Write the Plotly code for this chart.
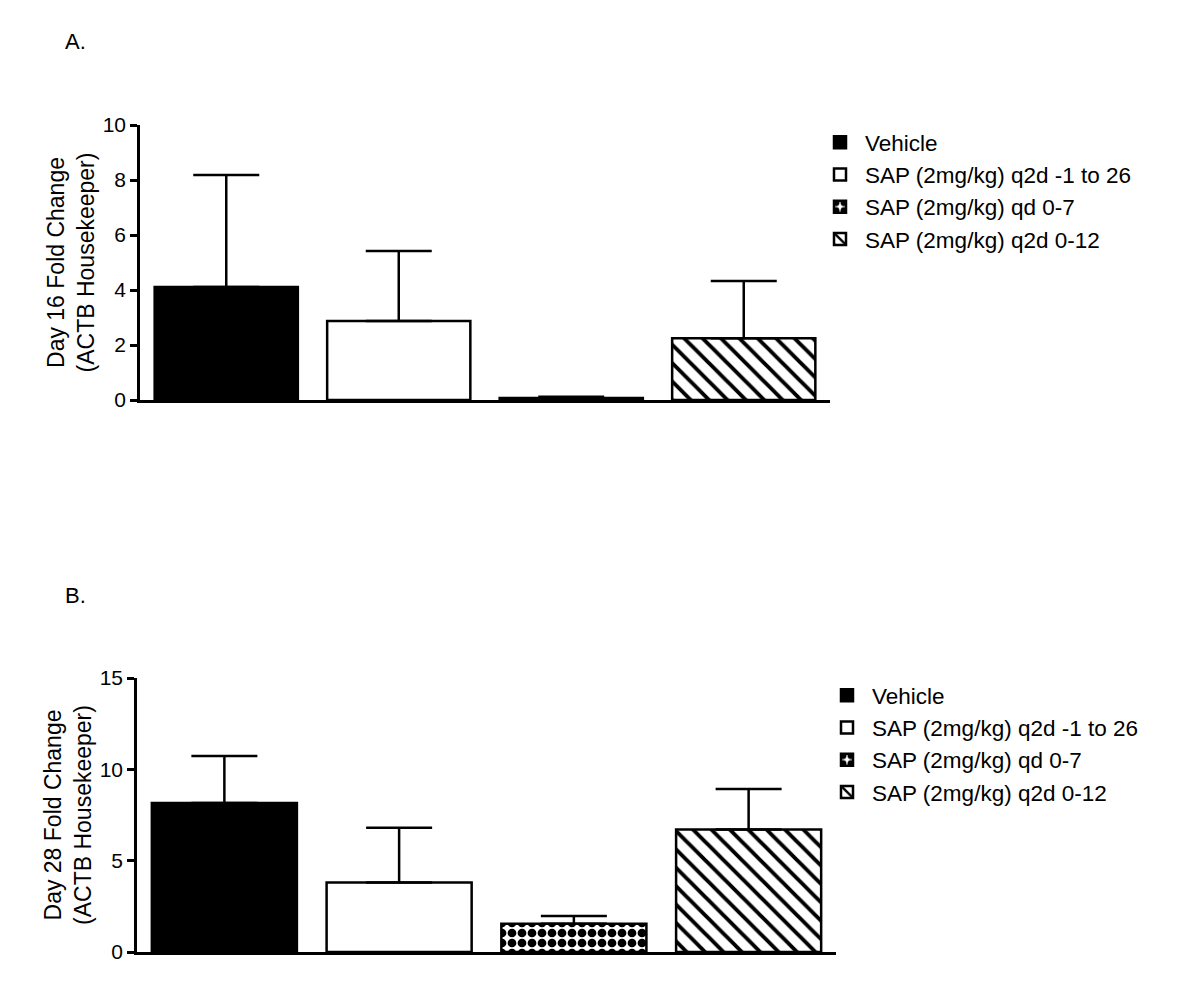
import plotly.graph_objects as go

groups = ["Vehicle", "SAP (2mg/kg) q2d -1 to 26", "SAP (2mg/kg) qd 0-7", "SAP (2mg/kg) q2d 0-12"]

day16_mean = [4.11, 2.87, 0.07, 2.25]
day16_sem = [4.07, 2.55, 0.05, 2.08]

day28_mean = [8.16, 3.80, 1.55, 6.70]
day28_sem = [2.57, 3.00, 0.42, 2.22]

FONT = "Liberation Sans, Arial, sans-serif"
W, H = 1200, 993
OFF = 8  # page body margin in the screenshot


def px(x):
    return (x - OFF) / W


def py(y):
    return 1 - (y - OFF) / H


# fill style per group: (fill colour, pattern shape, pattern size, solidity)
styles = [
    ("black", "", 10, 0.3),
    ("white", "", 10, 0.3),
    ("white", ".", 10, 0.6),
    ("white", "\\", 13, 0.3),
]

fig = go.Figure()

for means, errs, xa, ya, leg in [
    (day16_mean, day16_sem, "x", "y", "legend"),
    (day28_mean, day28_sem, "x2", "y2", "legend2"),
]:
    for i, g in enumerate(groups):
        col, shp, sz, sol = styles[i]
        pattern = dict(shape=shp, fgcolor="black", bgcolor="white", fgopacity=1,
                       size=sz, solidity=sol, fillmode="replace") if shp else None
        fig.add_trace(go.Bar(
            x=[i], y=[means[i]], name=g,
            xaxis=xa, yaxis=ya, legend=leg,
            width=0.83,
            marker=dict(color=col, line=dict(color="black", width=2.5), pattern=pattern),
            error_y=dict(type="data", array=[errs[i]], arrayminus=[0], symmetric=False,
                         color="black", thickness=2.5, width=33),
        ))

axis_common = dict(showline=True, linecolor="black", linewidth=2.5, showgrid=False, zeroline=False,
                   automargin=False)
yticks = dict(ticks="outside", ticklen=7, tickwidth=2.5, tickcolor="black", tickfont=dict(size=21))

fig.update_layout(
    width=W, height=H,
    margin=dict(l=0, r=0, t=0, b=0, autoexpand=False),
    paper_bgcolor="white", plot_bgcolor="white",
    font=dict(family=FONT, size=19.5, color="black"),
    barmode="overlay",
    xaxis=dict(domain=[px(140), px(830)], range=[-0.5, 3.5], showticklabels=False, ticks="",
               anchor="y", **axis_common),
    yaxis=dict(domain=[py(400), py(125)], range=[0, 10], dtick=2, anchor="x",
               title=dict(text="Day 16 Fold Change<br>(ACTB Housekeeper)", standoff=2),
               **yticks, **axis_common),
    xaxis2=dict(domain=[px(137), px(836)], range=[-0.5, 3.5], showticklabels=False, ticks="",
                anchor="y2", **axis_common),
    yaxis2=dict(domain=[py(952), py(678)], range=[0, 15], dtick=5, anchor="x2",
                title=dict(text="Day 28 Fold Change<br>(ACTB Housekeeper)", standoff=2),
                **yticks, **axis_common),
    legend=dict(x=px(815), y=py(121), xanchor="left", yanchor="top", traceorder="normal",
                font=dict(family=FONT, size=22.5), itemwidth=40, tracegroupgap=0),
    legend2=dict(x=px(822), y=py(674), xanchor="left", yanchor="top", traceorder="normal",
                 font=dict(family=FONT, size=22.5), itemwidth=40, tracegroupgap=0),
    annotations=[
        dict(text="A.", x=px(63), y=py(42), xref="paper", yref="paper", showarrow=False,
             xanchor="left", yanchor="middle", font=dict(family=FONT, size=22)),
        dict(text="B.", x=px(63), y=py(595), xref="paper", yref="paper", showarrow=False,
             xanchor="left", yanchor="middle", font=dict(family=FONT, size=22)),
    ],
)

fig.write_html("out.html")
